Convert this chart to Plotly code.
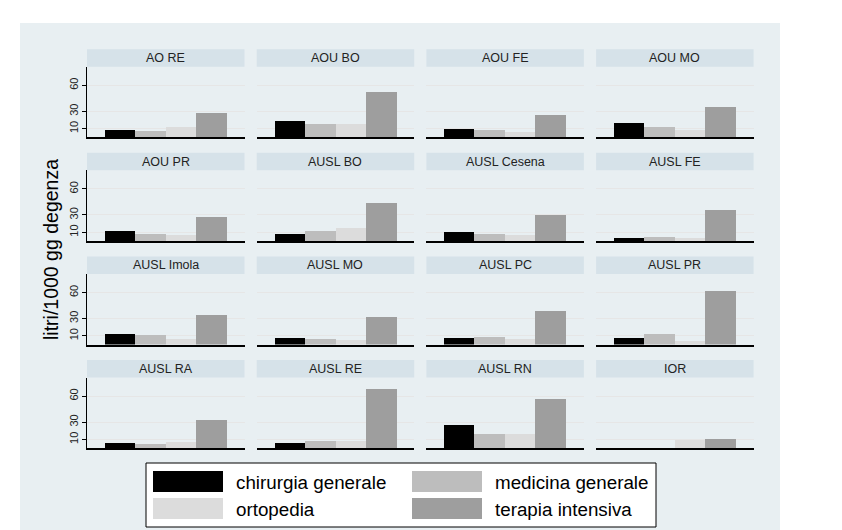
import plotly.graph_objects as go

# reparti (series) and aziende (panels)
categories = ["chirurgia generale", "medicina generale", "ortopedia", "terapia intensiva"]
colors = ["#000000", "#bdbdbd", "#dcdcdc", "#9e9e9e"]

panels = ["AO RE", "AOU BO", "AOU FE", "AOU MO",
          "AOU PR", "AUSL BO", "AUSL Cesena", "AUSL FE",
          "AUSL Imola", "AUSL MO", "AUSL PC", "AUSL PR",
          "AUSL RA", "AUSL RE", "AUSL RN", "IOR"]

chirurgia_generale = [8.8, 19.2, 10.0, 16.9, 10.8, 7.7, 9.6, 2.7, 11.9, 7.3, 7.3, 7.3, 6.2, 6.2, 26.9, 0]
medicina_generale = [7.7, 15.4, 8.8, 11.9, 7.7, 10.8, 7.7, 3.8, 10.8, 6.2, 8.5, 11.9, 5.4, 8.5, 16.5, 0]
ortopedia = [11.9, 15.4, 6.2, 8.8, 6.5, 14.2, 6.5, 2.7, 6.5, 5.0, 6.2, 3.8, 7.3, 8.5, 16.5, 10.0]
terapia_intensiva = [28.5, 52.7, 25.8, 35.0, 27.3, 43.5, 29.6, 35.0, 34.2, 31.5, 38.5, 61.5, 32.7, 68.8, 57.3, 10.8]

series = [chirurgia_generale, medicina_generale, ortopedia, terapia_intensiva]
y_ticks = [10, 30, 60]

W, H = 842, 530
FONT = "Liberation Sans, Arial, sans-serif"


def px(x):
    return x / W


def py(y):
    return 1 - y / H


fig = go.Figure()
shapes = []
annotations = []

# outer graph region
shapes.append(dict(type="rect", xref="paper", yref="paper", layer="below",
                   x0=px(20), x1=px(780), y0=py(532), y1=py(23),
                   fillcolor="#e8eff2", line=dict(width=0)))

col_x0 = 87
col_pitch = 169.7
panel_w = 157.5
row_top = 66.7
row_pitch = 103.6
panel_h = 70.6
strip_h = 17.5

for i, name in enumerate(panels):
    r, c = divmod(i, 4)
    n = i + 1
    xa = "x" if n == 1 else f"x{n}"
    ya = "y" if n == 1 else f"y{n}"
    x0 = col_x0 + c * col_pitch
    x1 = x0 + panel_w
    top = row_top + r * row_pitch
    bot = top + panel_h

    for k, cat in enumerate(categories):
        fig.add_trace(go.Bar(
            x=[cat], y=[series[k][i]], xaxis=xa, yaxis=ya,
            marker=dict(color=colors[k], line=dict(width=0)),
            showlegend=False, name=cat,
        ))

    first = c == 0
    fig.layout[("xaxis" if n == 1 else f"xaxis{n}")] = dict(
        domain=[px(x0), px(x1)], anchor=ya, type="category",
        categoryorder="array", categoryarray=categories,
        range=[-1.075, 4.075], showticklabels=False, ticks="",
        showgrid=False, zeroline=False, showline=True,
        linecolor="#000000", linewidth=1.5, fixedrange=True,
    )
    fig.layout[("yaxis" if n == 1 else f"yaxis{n}")] = dict(
        domain=[py(bot), py(top)], anchor=xa, range=[0, 81.5],
        tickvals=y_ticks, showticklabels=first, tickangle=-90,
        ticks="outside" if first else "", ticklen=4, tickcolor="#000000",
        tickfont=dict(family=FONT, size=11, color="#222222"),
        showgrid=True, gridcolor="#e6e6e6", gridwidth=1, zeroline=False,
        showline=first, linecolor="#000000", linewidth=1, fixedrange=True,
    )

    # panel strip with title
    shapes.append(dict(type="rect", xref="paper", yref="paper", layer="below",
                       x0=px(x0), x1=px(x1), y0=py(top), y1=py(top - strip_h),
                       fillcolor="#d6e2e9", line=dict(width=0)))
    annotations.append(dict(text=name, xref="paper", yref="paper",
                            x=px((x0 + x1) / 2), y=py(top - strip_h / 2),
                            xanchor="center", yanchor="middle", showarrow=False,
                            font=dict(family=FONT, size=12.5, color="#222222")))

# y axis title
annotations.append(dict(text="litri/1000 gg degenza", xref="paper", yref="paper",
                        x=px(51), y=py(250), textangle=-90, showarrow=False,
                        xanchor="center", yanchor="middle",
                        font=dict(family=FONT, size=19.5, color="#000000")))

# legend box drawn by hand (Stata-style wide swatches)
shapes.append(dict(type="rect", xref="paper", yref="paper",
                   x0=px(146), x1=px(656), y0=py(527), y1=py(463),
                   fillcolor="#ffffff", line=dict(color="#000000", width=1)))
leg_pos = [(153, 471), (412, 471), (153, 498), (412, 498)]
for k, cat in enumerate(categories):
    lx, ly = leg_pos[k]
    shapes.append(dict(type="rect", xref="paper", yref="paper",
                       x0=px(lx), x1=px(lx + 70), y0=py(ly + 21), y1=py(ly),
                       fillcolor=colors[k], line=dict(width=0)))
    annotations.append(dict(text=cat, xref="paper", yref="paper",
                            x=px(lx + 81), y=py(ly + 11), xanchor="left",
                            yanchor="middle", showarrow=False,
                            font=dict(family=FONT, size=18.8, color="#000000")))

fig.update_layout(
    width=W, height=H,
    margin=dict(l=0, r=0, t=0, b=0),
    paper_bgcolor="#ffffff", plot_bgcolor="#ffffff",
    barmode="overlay", bargap=0,
    shapes=shapes, annotations=annotations,
    showlegend=False,
)

# drop the page's default body margin so the figure sits at the window corner
fig.write_html("out.html", config={"displayModeBar": False},
               post_script="document.body.style.margin='0';")
